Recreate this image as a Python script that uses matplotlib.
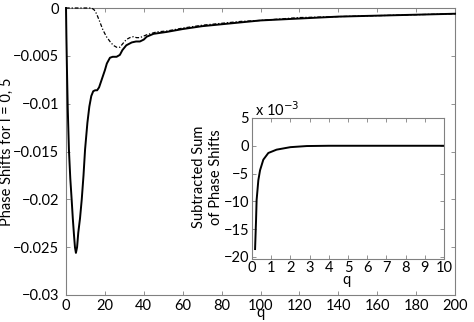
import matplotlib
matplotlib.use("Agg")
import matplotlib.pyplot as plt
import numpy as np

plt.rcParams['font.family'] = ['Lato', 'DejaVu Sans']

# Main solid curve
q_solid = [0, 0.2, 0.5, 0.9, 1.5, 2.2, 2.9, 3.5, 4.1, 4.6, 5.1, 5.7, 6.3, 7.2, 8.1, 9.0, 9.8, 11.0, 12.0,
           13.0, 14.0, 15.0, 16.0, 17.0, 18.0, 19.0, 20.0, 21.0, 22.6, 24.0, 26.0, 27.7, 29.0, 31.0,
           33.8, 36.0, 38.0, 40.0, 41.5, 45.0, 51.8, 60, 70, 80, 90, 100, 120, 140, 160, 180, 200]
v_solid = [0, -0.0030, -0.0065, -0.0105, -0.0148, -0.0178, -0.0200, -0.0220, -0.0237, -0.0250, -0.0256,
           -0.0250, -0.0235, -0.0220, -0.0200, -0.0175, -0.0148, -0.0120, -0.0103,
           -0.0092, -0.0087, -0.0086, -0.0086, -0.0083, -0.0077, -0.0071, -0.0065, -0.0058, -0.0052,
           -0.0051, -0.0051, -0.0049, -0.0044, -0.0039,
           -0.0036, -0.0035, -0.0035, -0.0033, -0.0030, -0.0027, -0.0025, -0.0022, -0.0019, -0.0017,
           -0.0015, -0.0013, -0.0011, -0.0009, -0.0008, -0.0007, -0.0006]

# Main dash-dot curve
q_dash = [0, 5, 10, 13.2, 14.5, 15.7, 17.3, 19.0, 20.8, 22.6, 24.3, 26.0, 27.7, 29.3, 31.0, 32.8, 34.6,
          36.3, 38.0, 41.5, 46.6, 52.0, 60, 70, 80, 90, 100, 120, 140, 160, 180, 200]
v_dash = [0, 0, 0, 0, -0.0002, -0.0006, -0.0014, -0.0023, -0.0030, -0.0035, -0.0039, -0.0041, -0.0041,
          -0.0037, -0.0033, -0.0031, -0.0030, -0.0031, -0.0031, -0.0028, -0.0025, -0.0024, -0.0021,
          -0.0018, -0.0016, -0.0014, -0.0013, -0.0010, -0.0009, -0.0008, -0.0007, -0.0006]

# Inset curve (subtracted sum)
q_inset = [0.16, 0.21, 0.24, 0.33, 0.42, 0.59, 0.85, 1.28, 2.0, 2.85, 4.0, 6.0, 8.0, 10.0]
v_inset = [-0.0186, -0.0135, -0.0098, -0.0062, -0.0044, -0.0025, -0.0013, -0.0007, -0.00025, -0.00005,
           0, 0, 0, 0]

main_xticks = [0, 20, 40, 60, 80, 100, 120, 140, 160, 180, 200]
main_yticks = [0, -0.005, -0.01, -0.015, -0.02, -0.025, -0.03]
main_yticklabels = ['0', '\u22120.005', '\u22120.01', '\u22120.015', '\u22120.02', '\u22120.025', '\u22120.03']
inset_xticks = [0, 1, 2, 3, 4, 5, 6, 7, 8, 9, 10]
inset_yticks = [5, 0, -5, -10, -15, -20]
inset_yticklabels = ['5', '0', '\u22125', '\u221210', '\u221215', '\u221220']

fig = plt.figure(figsize=(4.74, 3.22), dpi=100)
spine_col = '#808080'
fs = 10.5

ax = fig.add_axes([66/474, 27/322, 389/474, 287/322])
ax.plot(q_solid, v_solid, color='black', lw=1.4, clip_on=False, zorder=5)
ax.plot(q_dash, v_dash, color='black', lw=0.9, ls=(0, (3, 1.5, 1, 1.5)), clip_on=False, zorder=5)
ax.set_xlim(0, 200)
ax.set_ylim(-0.03, 0)
ax.set_xticks(main_xticks)
ax.set_yticks(main_yticks)
ax.set_yticklabels(main_yticklabels)
ax.set_xlabel('q', fontsize=fs, va='top')
ax.xaxis.set_label_coords(0.5, -0.038)
ax.set_ylabel('Phase Shifts for l = 0, 5', fontsize=fs)
ax.yaxis.set_label_coords(-0.134, 0.5)

axi = fig.add_axes([252/474, (322-258.5)/322, 192/474, 140.5/322])
axi.plot(q_inset, np.array(v_inset) * 1e3, color='black', lw=1.4)
axi.set_xlim(0, 10)
axi.set_ylim(-20.3, 5)
axi.set_xticks(inset_xticks)
axi.set_yticks(inset_yticks)
axi.set_yticklabels(inset_yticklabels)
axi.set_xlabel('q', fontsize=fs, va='top')
axi.xaxis.set_label_coords(0.49, -0.1)
axi.set_ylabel('Subtracted Sum\nof Phase Shifts', fontsize=fs, linespacing=1.25)
axi.yaxis.set_label_coords(-0.15, 0.58)
axi.text(0.016, 0.995, 'x 10$^{\u22123}$', transform=axi.transAxes, fontsize=fs, va='bottom', ha='left')

for a in (ax, axi):
    for s in a.spines.values():
        s.set_color(spine_col)
        s.set_linewidth(0.8)
    a.tick_params(direction='in', length=3, width=0.6, color=spine_col, labelsize=fs,
                  top=True, right=True)
ax.tick_params(axis='y', pad=5)
ax.tick_params(axis='x', pad=3)
axi.tick_params(axis='y', pad=2)
axi.tick_params(axis='x', pad=2)

fig.savefig('out.png', dpi=100)
